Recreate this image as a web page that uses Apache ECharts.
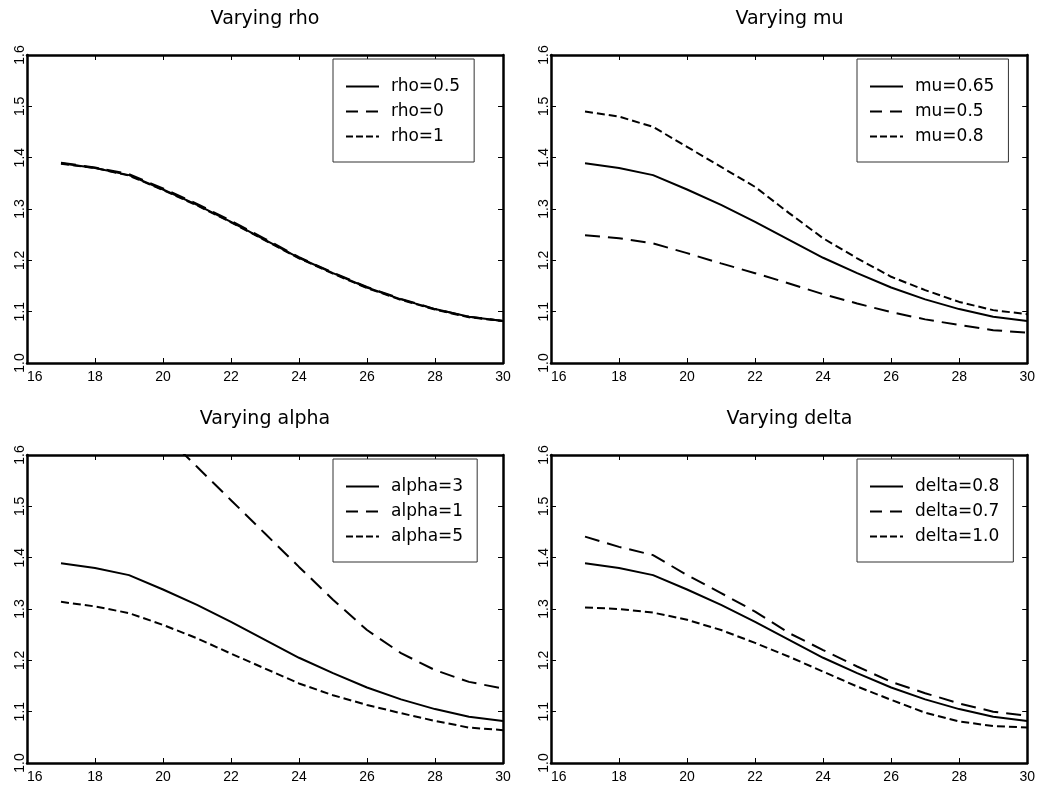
<!DOCTYPE html>
<html>
<head>
<meta charset="utf-8">
<script src="https://cdn.jsdelivr.net/npm/echarts@6/dist/echarts.min.js"></script>
<style>
html,body{margin:0;padding:0;background:#fff;}
#chart{width:1038px;height:786px;}
</style>
</head>
<body>
<div id="chart"></div>
<script>
// ---- data ----
const xs = [17, 18, 19, 20, 21, 22, 23, 24, 25, 26, 27, 28, 29, 30];
const titles = ["Varying rho", "Varying mu", "Varying alpha", "Varying delta"];

const rho05 = [1.389, 1.380, 1.366, 1.338, 1.308, 1.275, 1.240, 1.205, 1.175, 1.147, 1.124, 1.105, 1.090, 1.082];
const rho0  = [1.390, 1.381, 1.368, 1.340, 1.310, 1.277, 1.242, 1.206, 1.176, 1.148, 1.125, 1.105, 1.090, 1.082];
const rho1  = [1.388, 1.380, 1.365, 1.337, 1.307, 1.274, 1.239, 1.204, 1.174, 1.146, 1.123, 1.104, 1.089, 1.082];

const mu065 = [1.389, 1.380, 1.366, 1.338, 1.308, 1.275, 1.240, 1.205, 1.175, 1.147, 1.124, 1.105, 1.090, 1.082];
const mu05  = [1.249, 1.243, 1.233, 1.214, 1.194, 1.175, 1.155, 1.134, 1.116, 1.099, 1.085, 1.074, 1.064, 1.059];
const mu08  = [1.490, 1.480, 1.460, 1.421, 1.382, 1.343, 1.292, 1.243, 1.204, 1.168, 1.142, 1.119, 1.103, 1.095];

const alpha3 = [1.389, 1.380, 1.366, 1.338, 1.308, 1.275, 1.240, 1.205, 1.175, 1.147, 1.124, 1.105, 1.090, 1.082];
const alpha1 = [null, null, null, 1.642, 1.577, 1.512, 1.447, 1.382, 1.318, 1.259, 1.214, 1.181, 1.158, 1.145];
const alpha5 = [1.314, 1.305, 1.292, 1.269, 1.243, 1.213, 1.184, 1.155, 1.132, 1.113, 1.097, 1.082, 1.069, 1.064];

const delta08 = [1.389, 1.380, 1.366, 1.338, 1.308, 1.275, 1.240, 1.205, 1.175, 1.147, 1.124, 1.105, 1.090, 1.082];
const delta07 = [1.441, 1.421, 1.405, 1.366, 1.331, 1.295, 1.253, 1.220, 1.188, 1.158, 1.136, 1.116, 1.100, 1.092];
const delta10 = [1.303, 1.300, 1.293, 1.279, 1.259, 1.234, 1.207, 1.178, 1.149, 1.123, 1.098, 1.081, 1.072, 1.069];

const panelNames = [
  ["rho=0.5", "rho=0", "rho=1"],
  ["mu=0.65", "mu=0.5", "mu=0.8"],
  ["alpha=3", "alpha=1", "alpha=5"],
  ["delta=0.8", "delta=0.7", "delta=1.0"]
];
const panelData = [
  [rho05, rho0, rho1],
  [mu065, mu05, mu08],
  [alpha3, alpha1, alpha5],
  [delta08, delta07, delta10]
];
const xTicks = [16, 18, 20, 22, 24, 26, 28, 30];
const yTicks = [1.0, 1.1, 1.2, 1.3, 1.4, 1.5, 1.6];

// ---- layout ----
const grids = [
  {left: 27, top: 55, width: 476, height: 308},
  {left: 551, top: 55, width: 477, height: 308},
  {left: 27, top: 455, width: 476, height: 308},
  {left: 551, top: 455, width: 477, height: 308}
];
const dashTypes = ['solid', [15, 8], [8, 4]];
const legendDash = ['solid', [12, 8], [7, 3]];
const tickFont = 'Liberation Sans, Arial, sans-serif';
const textFont = 'DejaVu Sans, sans-serif';

const xAxes = [], yAxes = [], series = [], legends = [], titleArr = [];
grids.forEach((g, p) => {
  const common = {
    type: 'value',
    gridIndex: p,
    axisLine: {show: true, onZero: false, lineStyle: {color: '#000', width: 2.5}},
    axisTick: {show: true, inside: true, length: 5, lineStyle: {color: '#000', width: 1}},
    splitLine: {show: false}
  };
  xAxes.push(Object.assign({}, common, {
    position: 'bottom', min: xTicks[0], max: xTicks[xTicks.length - 1], interval: 2,
    axisLabel: {show: true, color: '#000', fontFamily: tickFont, fontSize: 14, margin: 7,
      alignMinLabel: 'left', formatter: v => String(v)}
  }));
  xAxes.push(Object.assign({}, common, {
    position: 'top', min: xTicks[0], max: xTicks[xTicks.length - 1], interval: 2,
    axisLabel: {show: false}
  }));
  yAxes.push(Object.assign({}, common, {
    position: 'left', min: yTicks[0], max: yTicks[yTicks.length - 1], interval: 0.1,
    axisLabel: {show: true, color: '#000', fontFamily: tickFont, fontSize: 14, margin: 0,
      rotate: 90, formatter: v => v.toFixed(1)}
  }));
  yAxes.push(Object.assign({}, common, {
    position: 'right', min: yTicks[0], max: yTicks[yTicks.length - 1], interval: 0.1,
    axisLabel: {show: false}
  }));

  panelNames[p].forEach((name, k) => {
    const arr = panelData[p][k];
    series.push({
      type: 'line',
      name: name,
      xAxisIndex: 2 * p,
      yAxisIndex: 2 * p,
      symbol: 'none',
      showSymbol: false,
      smooth: false,
      clip: true,
      lineStyle: {color: '#000', width: 2, type: dashTypes[k]},
      itemStyle: {color: '#000'},
      data: xs.map((x, i) => [x, arr[i]])
    });
  });

  legends.push({
    show: true,
    orient: 'vertical',
    left: g.left + 306,
    top: g.top + 4,
    selectedMode: false,
    itemWidth: 33,
    itemHeight: 14,
    itemGap: 8,
    padding: [19, 14, 17, 12],
    borderColor: '#333',
    borderWidth: 1,
    backgroundColor: '#fff',
    textStyle: {fontFamily: textFont, fontSize: 17, color: '#000', padding: [0, 0, 0, 7]},
    data: panelNames[p].map((name, k) => ({
      name: name,
      itemStyle: {opacity: 0},
      lineStyle: {color: '#000', width: 2, type: legendDash[k], opacity: 1}
    }))
  });

  titleArr.push({
    text: titles[p],
    left: g.left + g.width / 2,
    top: g.top - 45,
    textAlign: 'center',
    padding: 0,
    textStyle: {fontFamily: textFont, fontSize: 19, fontWeight: 'normal', color: '#000'}
  });
});

const chart = echarts.init(document.getElementById('chart'), null, {renderer: 'canvas'});
chart.setOption({
  animation: false,
  backgroundColor: '#fff',
  title: titleArr,
  grid: grids,
  xAxis: xAxes,
  yAxis: yAxes,
  legend: legends,
  series: series
});
</script>
</body>
</html>
